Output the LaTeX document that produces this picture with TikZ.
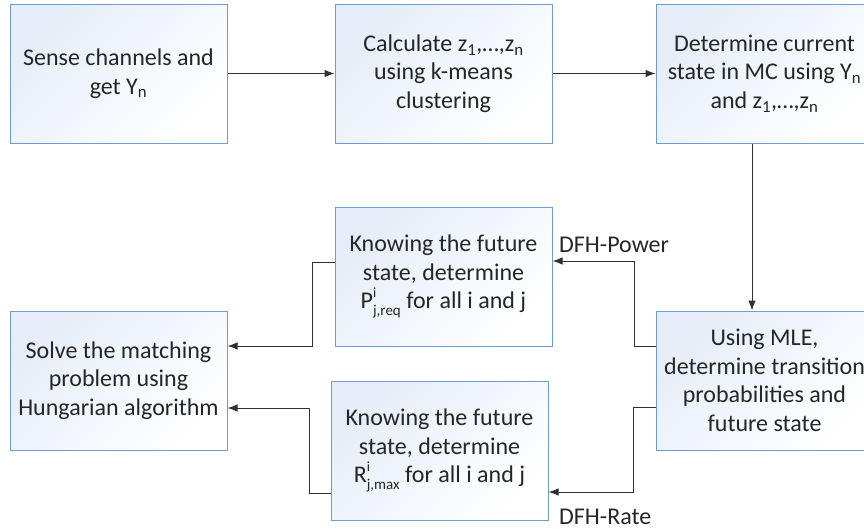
\documentclass[tikz,border=0pt]{standalone}
\usepackage{fontspec}
\setmainfont{Carlito}
\usetikzlibrary{arrows.meta,positioning}
\definecolor{boxline}{HTML}{6E9BD0}
\definecolor{boxfill}{HTML}{E6EDF8}
\definecolor{flowline}{HTML}{303030}
\newcommand{\supsub}[2]{\rlap{\raisebox{0.48em}{\fontsize{14}{14}\selectfont #1}}\raisebox{-0.26em}{\fontsize{15}{15}\selectfont #2}}

\begin{document}
\begin{tikzpicture}[x=1pt,y=-1pt,
  stepbox/.style={draw=boxline, line width=1pt, top color=boxfill, bottom color=white,
    shading angle=45, minimum width=217pt, minimum height=139pt, inner sep=0pt,
    align=center, text=black!85, font=\fontsize{24}{28.5}\selectfont},
  flow/.style={draw=flowline, line width=1pt, -{Latex[length=10pt,width=7.5pt]}},
  lbl/.style={anchor=west, inner sep=0pt, text=black!85, font=\fontsize{24}{28.5}\selectfont}]
  \useasboundingbox (0,0) rectangle (864,531);

  % top row
  \node[stepbox] (sense) at (118.5,73.5) {Sense channels and\\get Y\textsubscript{n}};
  \node[stepbox] (calc)  at (443.5,73.5) {Calculate z\textsubscript{1},…,z\textsubscript{n}\\using k-means\\clustering};
  \node[stepbox] (curr)  at (764.5,73.5) {Determine current\\state in MC using Y\textsubscript{n}\\and z\textsubscript{1},…,z\textsubscript{n}};

  % lower part
  \node[stepbox] (mle)   at (764.5,380.5) {Using MLE,\\determine transition\\probabilities and\\future state};
  \node[stepbox] (power) at (443.5,276.5) {Knowing the future\\state, determine\\P\supsub{i}{j,req} for all i and j};
  \node[stepbox] (rate)  at (439.5,450.5) {Knowing the future\\state, determine\\R\supsub{i}{j,max} for all i and j};
  \node[stepbox] (solve) at (118.5,380.5) {Solve the matching\\problem using\\Hungarian algorithm};

  \node[lbl] (powlbl)  at (559,245) {DFH-Power};
  \node[lbl] (ratelbl) at (559,517) {DFH-Rate};

  \draw[flow] (sense) -- (calc);
  \draw[flow] (calc) -- (curr);
  \draw[flow] ([xshift=-12.5pt]curr.south) -- ([xshift=-12.5pt]mle.north);
  \draw[flow] ([yshift=34.5pt]mle.west) -- ++(-21,0) |- ([yshift=15.5pt]power.east);
  \draw[flow] ([yshift=-26.5pt]mle.west) -- ++(-22,0) |- ([yshift=-41.5pt]rate.east);
  \draw[flow] ([yshift=14.5pt]power.west) -- ++(-22,0) |- ([yshift=34.5pt]solve.east);
  \draw[flow] ([yshift=-42.5pt]rate.west) -- ++(-21,0) |- ([yshift=-27.5pt]solve.east);
\end{tikzpicture}
\end{document}
